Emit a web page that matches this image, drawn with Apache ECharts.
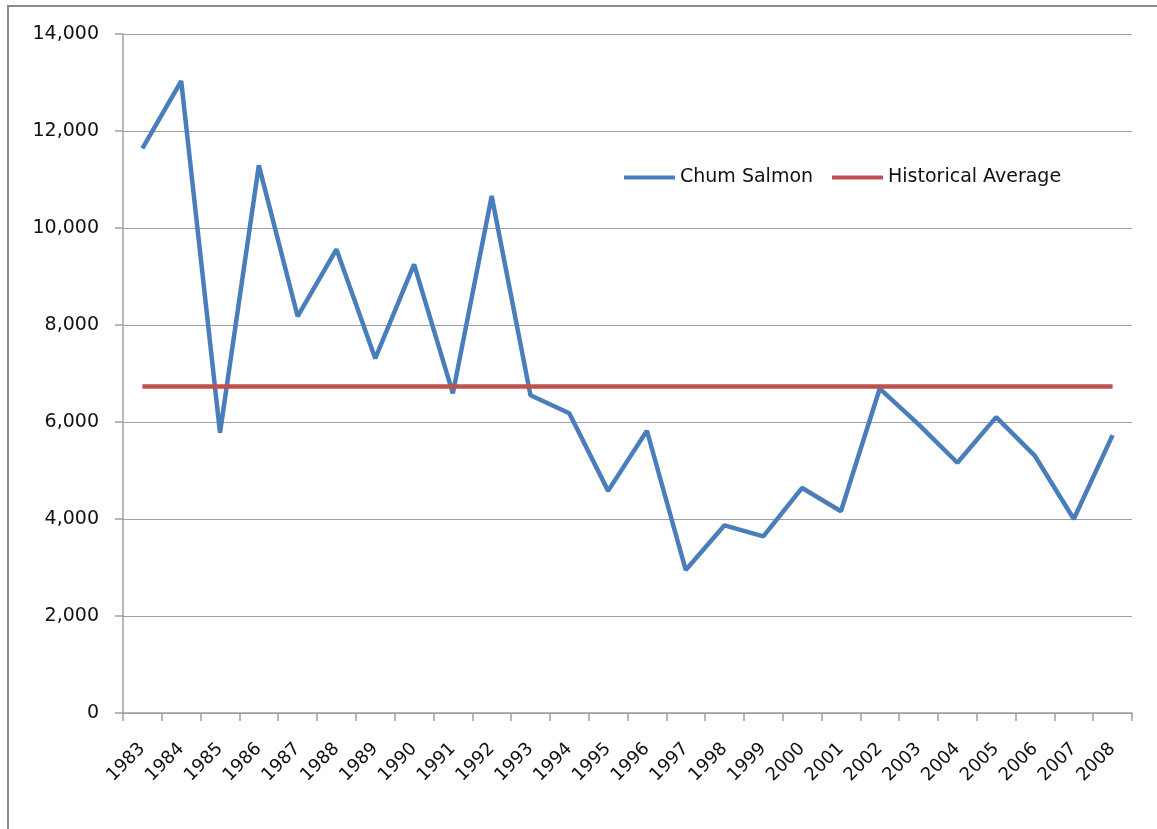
<!DOCTYPE html>
<html>
<head>
<meta charset="utf-8">
<script src="https://cdn.jsdelivr.net/npm/echarts@6/dist/echarts.min.js"></script>
<style>
	html, body { margin: 0; padding: 0; background: #fff; }
	#chart { width: 1157px; height: 829px; }
</style>
</head>
<body>
<div id="chart"></div>
<script>
	// 年份
	var years = ['1983', '1984', '1985', '1986', '1987', '1988', '1989', '1990', '1991', '1992',
		'1993', '1994', '1995', '1996', '1997', '1998', '1999', '2000', '2001', '2002',
		'2003', '2004', '2005', '2006', '2007', '2008'];
	// Chum Salmon
	var chum = [11640, 13030, 5780, 11290, 8180, 9560, 7310, 9250, 6590, 10660,
		6550, 6180, 4580, 5820, 2950, 3870, 3640, 4640, 4160, 6690,
		5950, 5160, 6100, 5300, 4000, 5730];
	// Historical Average
	var histAvg = 6740;
	var yTicks = [0, 2000, 4000, 6000, 8000, 10000, 12000, 14000];

	var font = 'DejaVu Sans';
	var axisGray = '#a0a0a0';

	var myChart = echarts.init(document.getElementById('chart'));
	myChart.setOption({
		animation: false,
		graphic: [{
			type: 'polyline',
			shape: { points: [[8, 829], [8, 6], [1157, 6]] },
			style: { stroke: '#8a8a8a', lineWidth: 2, fill: null }
		}],
		grid: {
			left: 123,
			right: 25,
			top: 34,
			bottom: 116
		},
		legend: {
			left: 619,
			top: 163,
			icon: 'rect',
			itemWidth: 51,
			itemHeight: 4,
			itemGap: 19,
			textStyle: {
				fontFamily: font,
				fontSize: 19,
				color: '#111'
			},
			data: ['Chum Salmon', 'Historical Average']
		},
		xAxis: {
			type: 'category',
			data: years,
			boundaryGap: true,
			axisLine: { lineStyle: { color: axisGray, width: 1.5 } },
			axisTick: { show: true, length: 8, lineStyle: { color: axisGray, width: 1.5 } },
			axisLabel: {
				interval: 0,
				rotate: 45,
				margin: 33,
				fontFamily: font,
				fontSize: 18,
				color: '#111'
			}
		},
		yAxis: {
			type: 'value',
			min: yTicks[0],
			max: yTicks[yTicks.length - 1],
			interval: 2000,
			axisLine: { show: true, lineStyle: { color: axisGray, width: 1.5 } },
			axisTick: { show: true, length: 8, lineStyle: { color: axisGray, width: 1.5 } },
			splitLine: { lineStyle: { color: axisGray, width: 1.2 } },
			axisLabel: {
				margin: 24,
				fontFamily: font,
				fontSize: 19,
				color: '#111',
				formatter: function (v) {
					return String(v).replace(/\B(?=(\d{3})+(?!\d))/g, ',');
				}
			}
		},
		series: [{
			name: 'Chum Salmon',
			type: 'line',
			data: chum,
			symbol: 'none',
			lineStyle: { color: '#4a7ebb', width: 4.5 },
			itemStyle: { color: '#4a7ebb' },
			z: 3
		}, {
			name: 'Historical Average',
			type: 'line',
			data: [],
			symbol: 'none',
			lineStyle: { color: '#c0504d', width: 4.5 },
			itemStyle: { color: '#c0504d' },
			markLine: {
				silent: true,
				symbol: 'none',
				label: { show: false },
				lineStyle: { color: '#c0504d', width: 4.5, type: 'solid' },
				data: [[{ coord: [years[0], histAvg] }, { coord: [years[years.length - 1], histAvg] }]]
			},
			z: 2
		}]
	});
</script>
</body>
</html>
